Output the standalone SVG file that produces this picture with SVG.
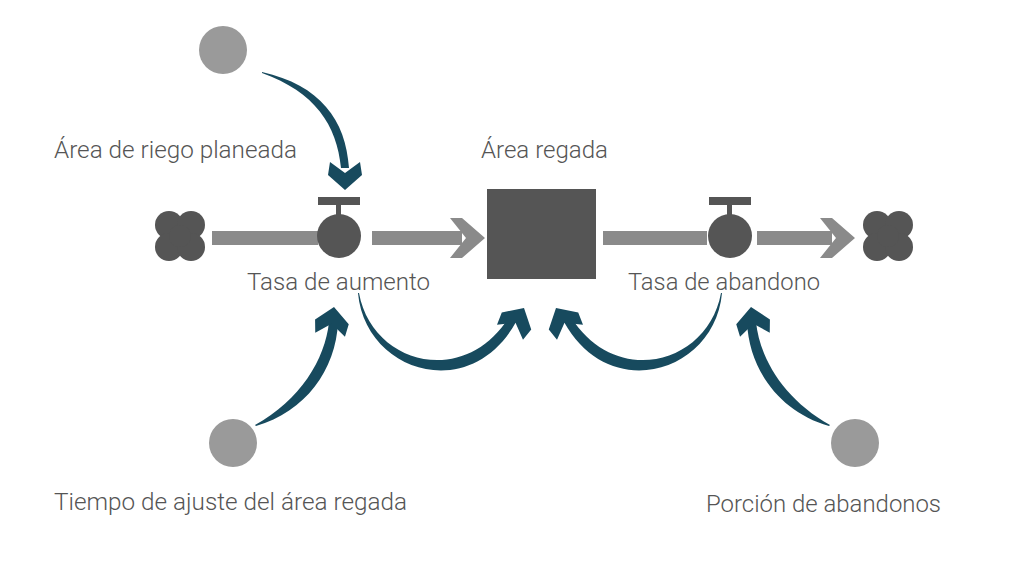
<svg xmlns="http://www.w3.org/2000/svg" width="1024" height="561" viewBox="0 0 1024 561">
<style>
text{font-family:Roboto,"Liberation Sans",sans-serif;font-weight:300;font-size:24px;fill:#555}
.aux{fill:#9a9a9a}.pipe{fill:#8a8a8a}.dark{fill:#555}.link{fill:#174a5e}
</style>
<defs>
<polygon id="ah" points="0,0 17,15 15,28 0,17 -15,28 -17,15"/>
<g id="cloud" class="dark"><circle cx="-11" cy="-11" r="14"/><circle cx="11" cy="-11" r="14"/><circle cx="-11" cy="11" r="14"/><circle cx="11" cy="11" r="14"/><circle r="11"/></g>
</defs>
<g id="flows">
<use href="#cloud" x="180" y="236"/>
<use href="#cloud" x="888" y="236"/>
<rect class="pipe" x="212" y="231" width="106" height="14"/>
<rect class="pipe" x="372" y="231" width="90" height="14"/>
<polygon class="pipe" points="450,218 462,218 485,238 462,258 450,258 466,238"/>
<rect class="pipe" x="603" y="231" width="104" height="14"/>
<rect class="pipe" x="757" y="231" width="75" height="14"/>
<polygon class="pipe" points="820,218 832,218 855,238 832,258 820,258 836,238"/>
</g>
<g id="stock"><rect class="dark" x="487" y="189" width="109" height="90"/><text x="481" y="158" textLength="127" lengthAdjust="spacingAndGlyphs">Área regada</text></g>
<g id="tasa-aumento" class="dark"><circle cx="339" cy="236" r="22"/><rect x="318" y="197" width="42" height="8"/><rect x="336" y="205" width="5" height="12"/><text x="247" y="290" textLength="183" lengthAdjust="spacingAndGlyphs">Tasa de aumento</text></g>
<g id="tasa-abandono" class="dark"><circle cx="730" cy="236" r="22"/><rect x="709" y="197" width="42" height="8"/><rect x="727" y="205" width="5" height="12"/><text x="628" y="290" textLength="192" lengthAdjust="spacingAndGlyphs">Tasa de abandono</text></g>
<g id="area-riego"><circle class="aux" cx="223" cy="50" r="24"/><text x="54" y="158" textLength="243" lengthAdjust="spacingAndGlyphs">Área de riego planeada</text></g>
<g id="tiempo"><circle class="aux" cx="233" cy="443" r="24"/><text x="54" y="510" textLength="353" lengthAdjust="spacingAndGlyphs">Tiempo de ajuste del área regada</text></g>
<g id="porcion"><circle class="aux" cx="855" cy="443" r="24"/><text x="706" y="512" textLength="235" lengthAdjust="spacingAndGlyphs">Porción de abandonos</text></g>
<g id="connectors" class="link">
<path d="M262,72 C320,85 346,120 349,168 L341,168 C337,125 315,92 262,73 Z"/>
<use href="#ah" transform="translate(345,190) rotate(180)"/>
<path d="M255,425 C300,400 325,360 329,322 L338,322 C336,370 305,412 256,426 Z"/>
<use href="#ah" transform="translate(334,307) rotate(8)"/>
<path d="M358,293 C365,372 470,405 516,322 L509,317 C465,388 372,365 359,293 Z"/>
<use href="#ah" transform="translate(524,308) rotate(30)"/>
<path d="M722,293 C715,372 610,405 564,322 L571,317 C615,388 708,365 721,293 Z"/>
<use href="#ah" transform="translate(556,308) rotate(-30)"/>
<path d="M830,425 C785,400 760,360 756,322 L747,322 C749,370 780,412 829,426 Z"/>
<use href="#ah" transform="translate(751,307) rotate(-8)"/>
</g>
</svg>
